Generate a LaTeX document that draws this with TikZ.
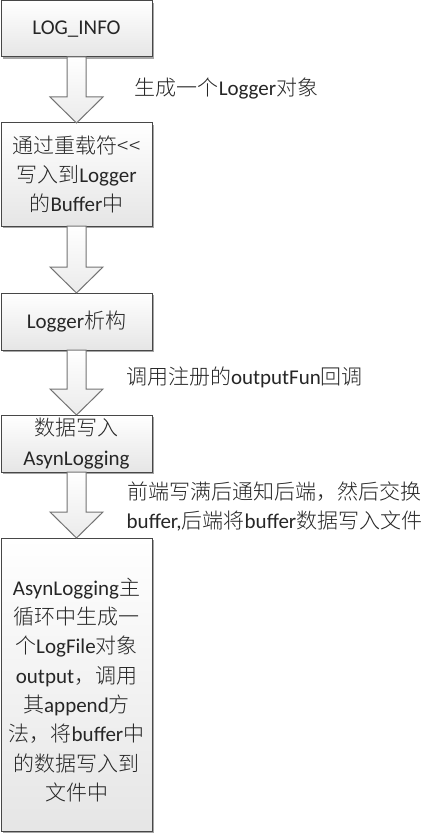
\documentclass[tikz,border=0pt]{standalone}
\usepackage{fontspec}
\setmainfont{Carlito}
\newfontfamily\zhfont{Noto Sans CJK SC Light}
\newcommand\zh[1]{{\zhfont #1}}
\usetikzlibrary{calc,shadows}
\tikzset{
  txt/.style={font=\fontsize{15.75pt}{22pt}\selectfont, text=black!85},
  box/.style={txt, draw=black!72, line width=0.75pt, top color=white, bottom color=black!10,
    minimum width=151*0.75pt, align=center, outer sep=0pt, inner sep=0pt,
    drop shadow={shadow xshift=1.5pt, shadow yshift=-1.5pt, fill=black!35, opacity=1}},
  barrow/.style={draw=black!55, line width=0.75pt, top color=white, bottom color=black!8, line join=miter},
  lbl/.style={txt, align=center, inner sep=0pt}
}
\newcommand\blockarrow[2]{%
  \path[barrow] ($(#1.south)+(-9.5,0)$) -- ($(#1.south)+(9.5,0)$) -- ($(#2.north)+(9.5,-26)$)
    -- ($(#2.north)+(26.5,-26)$) -- (#2.north) -- ($(#2.north)+(-26.5,-26)$)
    -- ($(#2.north)+(-9.5,-26)$) -- cycle;}
\begin{document}
\begin{tikzpicture}[x=0.75pt,y=-0.75pt]
\path[fill=white] (0,0) rectangle (427,834);
\useasboundingbox (0,0) rectangle (427,834);
\node[box, minimum height=56*0.75pt] (b1) at (76.5,29) {LOG\_INFO};
\node[box, minimum height=103*0.75pt] (b2) at (76.5,174.5) {\zh{通过重载符<<}\\\zh{写入到}Logger\\\zh{的}Buffer\zh{中}};
\node[box, minimum height=57*0.75pt] (b3) at (76.5,321.5) {Logger\zh{析构}};
\node[box, minimum height=57*0.75pt] (b4) at (76.5,443.5) {\zh{数据写入}\\AsynLogging};
\node[box, minimum height=293*0.75pt,
  label={[lbl, yshift=-4pt]center:AsynLogging\zh{主}\\\zh{循环中生成一}\\\zh{个}LogFile\zh{对象}\\output\zh{，调用}\\\zh{其}append\zh{方}\\\zh{法，将}buffer\zh{中}\\\zh{的数据写入到}\\\zh{文件中}}] (b5) at (76.5,684.5) {};
\blockarrow{b1}{b2}
\blockarrow{b2}{b3}
\blockarrow{b3}{b4}
\blockarrow{b4}{b5}
\node[lbl] (l1) at (226.5,89) {\zh{生成一个}Logger\zh{对象}};
\node[lbl] (l2) at (244.5,377) {\zh{调用注册的}outputFun\zh{回调}};
\node[lbl] (l3) at (274.5,506.5) {\zh{前端写满后通知后端，然后交换}\\buffer,\zh{后端将}buffer\zh{数据写入文件}};
\end{tikzpicture}
\end{document}
